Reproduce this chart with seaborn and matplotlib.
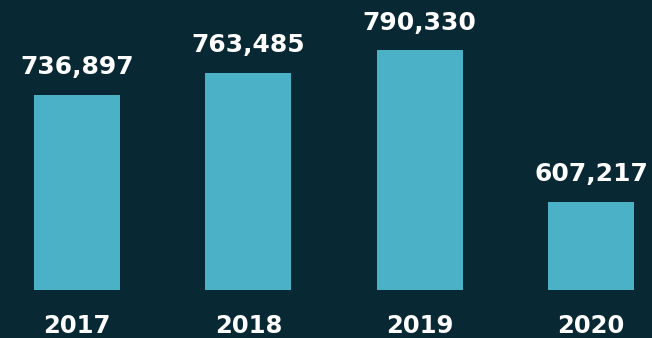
import matplotlib
matplotlib.use("Agg")
import matplotlib.pyplot as plt
import seaborn as sns
import pandas as pd

years = ["2017", "2018", "2019", "2020"]
values = [736897, 763485, 790330, 607217]
value_labels = ["736,897", "763,485", "790,330", "607,217"]

BG = "#082834"
BAR = "#4bb1c7"

sns.set_theme(style="white")
plt.rcParams["font.family"] = ["DejaVu Sans"]

df = pd.DataFrame({"year": years, "value": values})

fig = plt.figure(figsize=(6.52, 3.38), dpi=100, facecolor=BG)
ax = fig.add_axes([0, 48 / 338, 1, 290 / 338])
ax.set_facecolor(BG)

sns.barplot(data=df, x="year", y="value", color=BAR, width=0.503,
            saturation=1, ax=ax, edgecolor="none")

ax.set_xlim(-77 / 171.3, 3 + (652 - 591) / 171.3)
ax.set_ylim(500000, 500000 + 290 * 1212)

ax.bar_label(ax.containers[0], labels=value_labels, padding=11,
             color="white", fontsize=18, fontweight="bold")

ax.set_xlabel("")
ax.set_ylabel("")
ax.set_yticks([])
ax.tick_params(axis="x", length=0, pad=17.5, labelsize=17.5, labelcolor="white")
for t in ax.get_xticklabels():
    t.set_fontweight("bold")
for s in ax.spines.values():
    s.set_visible(False)

fig.savefig("out.png", dpi=100, facecolor=BG)
